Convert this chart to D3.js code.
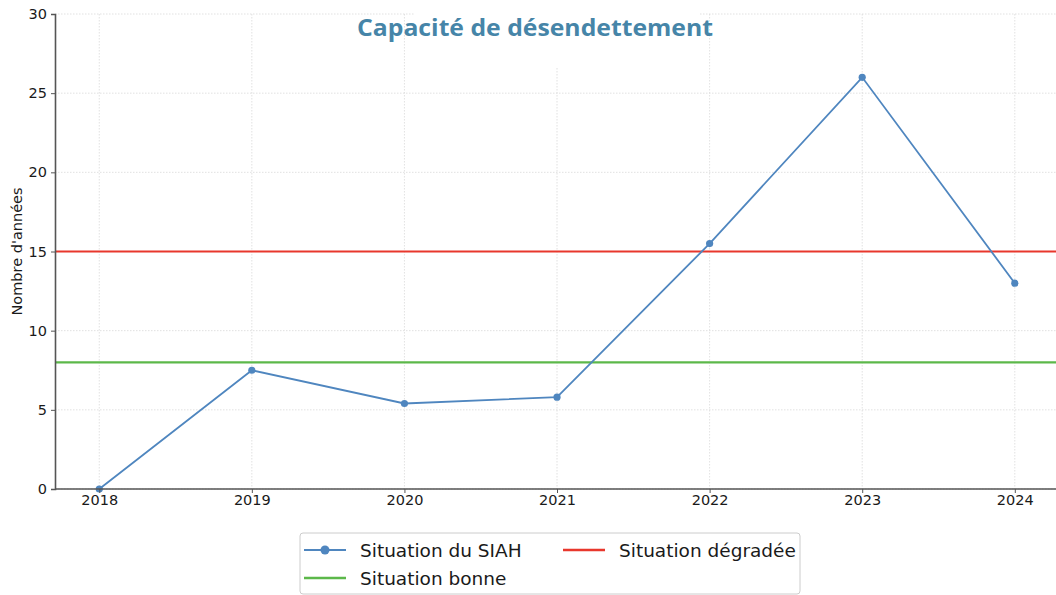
<!DOCTYPE html>
<html>
<head>
<meta charset="utf-8">
<script src="https://cdn.jsdelivr.net/npm/d3@7"></script>
<style>
  body { margin: 0; background: #fff; }
  svg { display: block; }
</style>
</head>
<body>
<div id="chart"></div>
<script>
const years = [2018, 2019, 2020, 2021, 2022, 2023, 2024];
const siahValues = [0, 7.5, 5.4, 5.8, 15.5, 26, 13];
const seuilDegrade = 15;
const seuilBon = 8;
const yTicks = [0, 5, 10, 15, 20, 25, 30];
const legendLabels = ["Situation du SIAH", "Situation dégradée", "Situation bonne"];

const width = 1056, height = 595;
const margin = {left: 55, right: 0, top: 14, bottom: 106};

const svg = d3.select("#chart").append("svg")
  .attr("width", width)
  .attr("height", height);

const x = d3.scaleLinear()
  .domain([2017.71, 2024.27])
  .range([margin.left, width - margin.right]);

const y = d3.scaleLinear()
  .domain([0, 30])
  .range([height - margin.bottom, margin.top]);

const blue = "#4f86bf", red = "#e8372c", green = "#5cb84a";

// grid
const grid = svg.append("g").attr("stroke", "#d9d9d9").attr("stroke-width", 0.8).attr("stroke-dasharray", "1.5,1.5");
grid.selectAll(".vx").data(years).enter().append("line")
  .attr("x1", d => x(d)).attr("x2", d => x(d))
  .attr("y1", y(30)).attr("y2", y(0));
grid.selectAll(".hy").data(yTicks).enter().append("line")
  .attr("x1", margin.left).attr("x2", width - margin.right)
  .attr("y1", d => y(d)).attr("y2", d => y(d));

// white patch behind the title
svg.append("rect")
  .attr("x", 415).attr("y", 4).attr("width", 285).attr("height", 64)
  .attr("fill", "#fff");

// threshold lines
svg.append("line")
  .attr("x1", margin.left).attr("x2", width)
  .attr("y1", y(seuilDegrade)).attr("y2", y(seuilDegrade))
  .attr("stroke", red).attr("stroke-width", 2.2);
svg.append("line")
  .attr("x1", margin.left).attr("x2", width)
  .attr("y1", y(seuilBon)).attr("y2", y(seuilBon))
  .attr("stroke", green).attr("stroke-width", 2.2);

// series
const line = d3.line()
  .x((d, i) => x(years[i]))
  .y(d => y(d));

svg.append("path")
  .datum(siahValues)
  .attr("d", line)
  .attr("fill", "none")
  .attr("stroke", blue)
  .attr("stroke-width", 1.8);

svg.selectAll(".pt").data(siahValues).enter().append("circle")
  .attr("cx", (d, i) => x(years[i]))
  .attr("cy", d => y(d))
  .attr("r", 3.6)
  .attr("fill", blue);

// axes
const xAxis = svg.append("g")
  .attr("transform", `translate(0,${y(0)})`)
  .call(d3.axisBottom(x).tickValues(years).tickFormat(d3.format("d")).tickSize(4).tickPadding(2));
const yAxis = svg.append("g")
  .attr("transform", `translate(${margin.left},0)`)
  .call(d3.axisLeft(y).tickValues(yTicks).tickSize(4).tickPadding(4));

[xAxis, yAxis].forEach(a => {
  a.select(".domain").attr("stroke", "#555").attr("stroke-width", 1.6);
  a.selectAll(".tick line").attr("stroke", "#555");
  a.selectAll("text")
    .attr("fill", "#1a1a1a")
    .style("font-family", "DejaVu Sans, sans-serif")
    .style("font-size", "14.5px");
});
// extend bottom spine to right edge
xAxis.select(".domain").attr("d", `M${margin.left},0H${width}`);

// y label
svg.append("text")
  .attr("transform", `translate(22,${y(15)}) rotate(-90)`)
  .attr("text-anchor", "middle")
  .style("font-family", "DejaVu Sans, sans-serif")
  .style("font-size", "14.5px")
  .attr("fill", "#1a1a1a")
  .text("Nombre d'années");

// title
svg.append("text")
  .attr("x", 535).attr("y", 36)
  .attr("text-anchor", "middle")
  .style("font-family", "Open Sans, sans-serif")
  .style("font-weight", "bold")
  .style("font-size", "23px")
  .attr("textLength", 356)
  .attr("lengthAdjust", "spacingAndGlyphs")
  .attr("fill", "#4685a8")
  .text("Capacité de désendettement");

// legend
const lg = svg.append("g").attr("transform", "translate(300,533)");
lg.append("rect")
  .attr("width", 500).attr("height", 61).attr("rx", 3)
  .attr("fill", "#fff").attr("stroke", "#ccc");

const items = [
  {label: legendLabels[0], color: blue, marker: true, x: 0, y: 17},
  {label: legendLabels[1], color: red, marker: false, x: 259, y: 17},
  {label: legendLabels[2], color: green, marker: false, x: 0, y: 45}
];
items.forEach(it => {
  const g = lg.append("g").attr("transform", `translate(${it.x},${it.y})`);
  g.append("line").attr("x1", 4).attr("x2", 46).attr("y1", 0).attr("y2", 0)
    .attr("stroke", it.color).attr("stroke-width", it.marker ? 1.8 : 2.4);
  if (it.marker) g.append("circle").attr("cx", 25).attr("cy", 0).attr("r", 4.5).attr("fill", it.color);
  g.append("text").attr("x", 60).attr("y", 6.5)
    .style("font-family", "DejaVu Sans, sans-serif")
    .style("font-size", "18.5px")
    .attr("fill", "#1a1a1a")
    .text(it.label);
});
</script>
</body>
</html>
